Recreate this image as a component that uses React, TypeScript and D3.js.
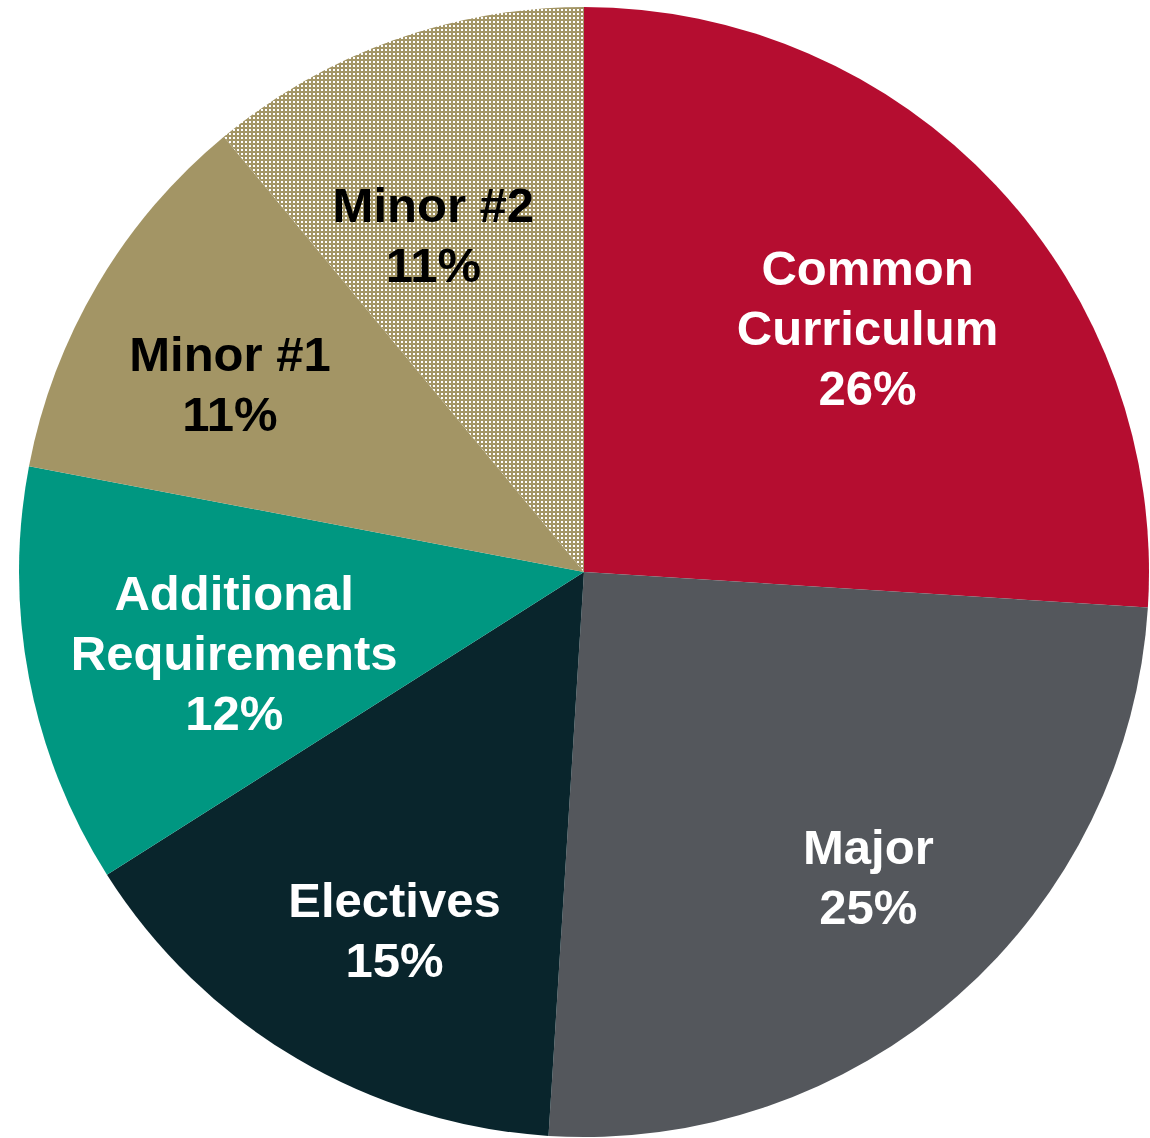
import React from 'react';
import * as d3 from 'd3';

const categories = ['Common Curriculum', 'Major', 'Electives', 'Additional Requirements', 'Minor #1', 'Minor #2'];
const labelLines = [
  ['Common', 'Curriculum'],
  ['Major'],
  ['Electives'],
  ['Additional', 'Requirements'],
  ['Minor #1'],
  ['Minor #2'],
];
const shares = [26, 25, 15, 12, 11, 11];
const colors = ['#b50d30', '#54575c', '#09252c', '#009781', '#a39565', 'url(#dots)'];
const textColors = ['#ffffff', '#ffffff', '#ffffff', '#ffffff', '#000000', '#000000'];

const W = 1150;
const H = 1138;

const App: React.FC = () => {
  const cx = 584;
  const cy = 572;
  const r = 565;
  // label placement: distance from centre and angular nudge (deg) from the slice middle
  const labelR = [374, 417, 405, 359, 401, 369];
  const labelNudge = [2.5, -1.6, -2.7, -2.2, -2.6, -4.3];

  const pie = d3.pie<number>().sort(null).value((d) => d)(shares);
  const arc = d3.arc<d3.PieArcDatum<number>>().innerRadius(0).outerRadius(r);

  return (
    <svg
      width={W}
      height={H}
      style={{ position: 'absolute', left: 0, top: 0 }}
      fontFamily="'Liberation Sans', Arial, sans-serif"
    >
      <defs>
        <pattern id="dots" width={4} height={4} patternUnits="userSpaceOnUse">
          <rect width={4} height={4} fill="#a39565" />
          <rect x={1} y={1} width={2} height={2} fill="#ffffff" />
        </pattern>
      </defs>
      <g transform={`translate(${cx},${cy})`}>
        {pie.map((p, i) => (
          <path key={categories[i]} d={arc(p) || ''} fill={colors[i]} />
        ))}
        {pie.map((p, i) => {
          const a = (p.startAngle + p.endAngle) / 2 + (labelNudge[i] * Math.PI) / 180;
          const x = Math.sin(a) * labelR[i];
          const y = -Math.cos(a) * labelR[i];
          const lines = [...labelLines[i], `${shares[i]}%`];
          const lh = 60;
          const y0 = y - ((lines.length - 1) * lh) / 2;
          return (
            <text
              key={categories[i]}
              textAnchor="middle"
              fontWeight="bold"
              fontSize={49}
              fill={textColors[i]}
            >
              {lines.map((l, j) => (
                <tspan key={j} x={x} y={y0 + j * lh} dy="0.35em">
                  {l}
                </tspan>
              ))}
            </text>
          );
        })}
      </g>
    </svg>
  );
};

export default App;
